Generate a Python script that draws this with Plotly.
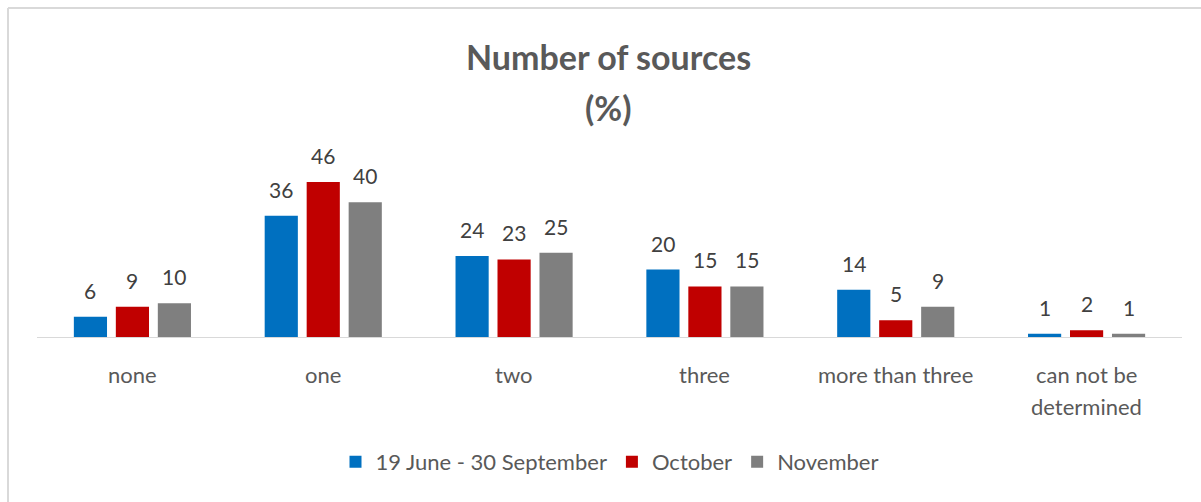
import plotly.graph_objects as go

# Share of items by number of sources cited (%)
categories = ["none", "one", "two", "three", "more than three", "can not be determined"]
category_lines = [["none"], ["one"], ["two"], ["three"], ["more than three"], ["can not be", "determined"]]
series_names = ["19 June - 30 September", "October", "November"]
summer = [6, 36, 24, 20, 14, 1]
october = [9, 46, 23, 15, 5, 2]
november = [10, 40, 25, 15, 9, 1]

colors = ["#0070C0", "#C00000", "#7F7F7F"]
FONT = "Lato, Carlito, Calibri, sans-serif"

W, H = 1201, 502
ML, MR, MT, MB = 37, 19, 140, 165
PW, PH = W - ML - MR, H - MT - MB

fig = go.Figure()
for name, vals, col in zip(series_names, [summer, october, november], colors):
    fig.add_trace(go.Bar(
        name=name, x=categories, y=vals,
        marker=dict(color=col, line=dict(width=0)),
        hoverinfo="x+y+name",
    ))

annotations = []
# value labels above each bar
slot = PW / len(categories) * (1 - 0.34) / 3
for i, vals in enumerate([summer, october, november]):
    for c, v in zip(categories, vals):
        annotations.append(dict(
            x=c, y=v, xref="x", yref="y", text=str(v), showarrow=False,
            xshift=(i - 1) * slot, yshift=12, yanchor="bottom",
            font=dict(family=FONT, size=21, color="#404040"),
        ))

# category labels under the axis
for c, lines in zip(categories, category_lines):
    for j, line in enumerate(lines):
        annotations.append(dict(
            x=c, y=0, xref="x", yref="y", text=line, showarrow=False,
            yanchor="middle", yshift=-37 - 32 * j,
            font=dict(family=FONT, size=22, color="#595959"),
        ))

# chart title
annotations.append(dict(
    x=0.5, y=(H - MB - 57) / PH, xref="paper", yref="paper",
    xshift=-1, text="<b>Number of sources</b>", showarrow=False,
    font=dict(family=FONT, size=34, color="#595959"), yanchor="middle",
))
annotations.append(dict(
    x=0.5, y=(H - MB - 107) / PH, xref="paper", yref="paper",
    xshift=-1, text="<b>(%)</b>", showarrow=False,
    font=dict(family=FONT, size=34, color="#595959"), yanchor="middle",
))

fig.update_layout(
    width=W, height=H,
    margin=dict(l=ML, r=MR, t=MT, b=MB, pad=0),
    paper_bgcolor="white", plot_bgcolor="white",
    barmode="group", bargap=0.34, bargroupgap=0.21,
    xaxis=dict(showticklabels=False, showline=True, linecolor="#D9D9D9",
               linewidth=1, ticks="", showgrid=False, zeroline=False,
               fixedrange=True),
    yaxis=dict(visible=False, range=[0, PH / 3.37], fixedrange=True),
    showlegend=True,
    legend=dict(orientation="h", x=0.5, xanchor="center",
                y=-(462 - (H - MB)) / PH, yanchor="middle",
                font=dict(family=FONT, size=22, color="#595959"),
                itemwidth=30, tracegroupgap=0, traceorder="normal"),
    annotations=annotations,
    shapes=[
        dict(type="line", xref="paper", yref="paper",
             x0=(8 - ML) / PW, x1=(W + 10 - ML) / PW,
             y0=(H - MB - 8) / PH, y1=(H - MB - 8) / PH,
             line=dict(color="#D9D9D9", width=2)),
        dict(type="line", xref="paper", yref="paper",
             x0=(8 - ML) / PW, x1=(8 - ML) / PW,
             y0=(H - MB - 8) / PH, y1=-(H + 10 - (H - MB)) / PH,
             line=dict(color="#D9D9D9", width=2)),
    ],
)

fig.write_html("out.html")
